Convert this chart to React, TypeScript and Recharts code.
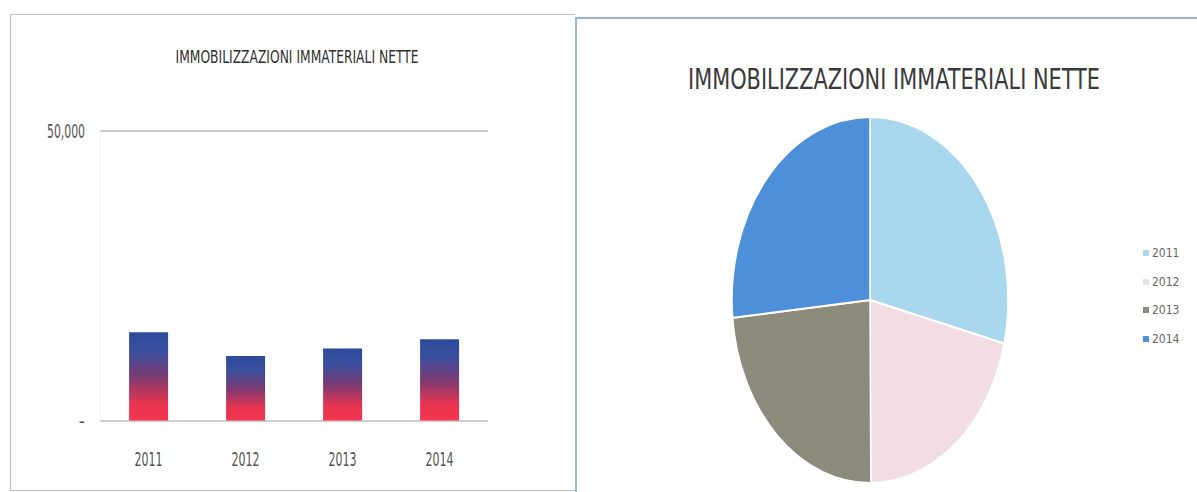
import React from 'react';
import {
  BarChart, Bar, XAxis, YAxis, CartesianGrid,
  PieChart, Pie, Cell, Legend,
} from 'recharts';

const years = ['2011', '2012', '2013', '2014'];
const netIntangibles = [15300, 11200, 12500, 14100];
const yTicks = [0, 50000];
const sliceColors = ['#a8d7ee', '#f3dde5', '#8c8b7b', '#4d8fd8'];

const TITLE = 'IMMOBILIZZAZIONI IMMATERIALI NETTE';
const NARROW = "'Liberation Sans Narrow', 'DejaVu Sans Condensed', 'Liberation Sans', sans-serif";

const rows = years.map((y, i) => ({ year: y, value: netIntangibles[i] }));

const fmtY = (v: number) => (v === 0 ? '-' : v.toLocaleString('en-US'));

const XTick = (props: any) => {
  const { x, y, payload } = props;
  return (
    <text x={x} y={y + 45} textAnchor="middle" fontFamily={NARROW} fontSize={19}
      fill="#555" textLength={28} lengthAdjust="spacingAndGlyphs">
      {payload.value}
    </text>
  );
};

const YTick = (props: any) => {
  const { x, y, payload } = props;
  const label = fmtY(payload.value);
  return (
    <text x={x} y={y + 7} textAnchor="end" fontFamily={NARROW} fontSize={19} fill="#555"
      textLength={label.length > 1 ? 38 : undefined} lengthAdjust="spacingAndGlyphs">
      {label}
    </text>
  );
};

const PieLegend = (props: any) => {
  const { payload = [] } = props;
  return (
    <div>
      {payload.map((p: any) => (
        <div key={p.value} style={{ display: 'flex', alignItems: 'center', height: 28.5 }}>
          <span style={{ width: 6, height: 6, background: p.color, marginRight: 3 }} />
          <span style={{ fontFamily: NARROW, fontSize: 12, color: '#666' }}>{p.value}</span>
        </div>
      ))}
    </div>
  );
};

export default function App() {
  return (
    <div style={{ position: 'absolute', left: 0, top: 0, width: 1197, height: 492, background: '#fff', overflow: 'hidden' }}>
      <style>{`.pie-box svg.recharts-surface { transform: scaleY(1.326); transform-origin: 295px 283px; overflow: visible; }`}</style>

      {/* panel frames */}
      <div style={{ position: 'absolute', left: 10, top: 14, width: 564, height: 475, border: '1.5px solid #bdbdbd', borderRight: 'none' }} />
      <div style={{ position: 'absolute', left: 575, top: 17, width: 622, height: 2, background: '#9bb3d1' }} />
      <div style={{ position: 'absolute', left: 575, top: 17, width: 2, height: 475, background: '#9fb6d6' }} />

      {/* left: bar chart */}
      <div style={{ position: 'absolute', left: 0, top: 0 }}>
        <BarChart width={520} height={480} data={rows}
          margin={{ top: 131, right: 32, bottom: 29, left: 0 }} barCategoryGap="30%">
          <defs>
            <linearGradient id="barFill" x1="0" y1="0" x2="0" y2="1">
              <stop offset="0%" stopColor="#2b4c9b" />
              <stop offset="22%" stopColor="#3b4f9e" />
              <stop offset="50%" stopColor="#7a3a72" />
              <stop offset="80%" stopColor="#e8344f" />
              <stop offset="100%" stopColor="#f53550" />
            </linearGradient>
          </defs>
          <CartesianGrid vertical={false} stroke="#bdbdbd" strokeWidth={1.5} />
          <XAxis dataKey="year" height={30} tickLine={false} tickSize={0} tickMargin={0}
            axisLine={{ stroke: '#cfcfcf' }} tick={<XTick />} interval={0} />
          <YAxis width={100} domain={[0, 50000]} ticks={yTicks} tickLine={false}
            tickSize={0} tickMargin={15} axisLine={{ stroke: '#f0f0f0' }} tick={<YTick />} />
          <Bar dataKey="value" fill="url(#barFill)" isAnimationActive={false} />
        </BarChart>
      </div>

      {/* right: pie chart */}
      <div className="pie-box" style={{ position: 'absolute', left: 575, top: 17 }}>
        <PieChart width={622} height={475} margin={{ top: 0, right: 0, bottom: 0, left: 0 }}>
          <Pie data={rows} dataKey="value" nameKey="year" cx={295} cy={283} outerRadius={138}
            startAngle={90} endAngle={-270} stroke="#fff" strokeWidth={1.5}
            legendType="square" isAnimationActive={false}>
            {rows.map((r, i) => (
              <Cell key={r.year} fill={sliceColors[i]} />
            ))}
          </Pie>
          <Legend layout="vertical" align="right" verticalAlign="top" content={<PieLegend />}
            wrapperStyle={{ left: 568, top: 222, width: 50 }} />
        </PieChart>
      </div>

      {/* titles */}
      <svg style={{ position: 'absolute', left: 0, top: 0, pointerEvents: 'none' }} width={1197} height={120}>
        <text x={297} y={63} textAnchor="middle" fontFamily={NARROW} fontSize={17} fill="#2f2f2f"
          textLength={243} lengthAdjust="spacingAndGlyphs">{TITLE}</text>
        <text x={894} y={89} textAnchor="middle" fontFamily={NARROW} fontSize={29} fill="#3a3a3a"
          textLength={412} lengthAdjust="spacingAndGlyphs">{TITLE}</text>
      </svg>
    </div>
  );
}
